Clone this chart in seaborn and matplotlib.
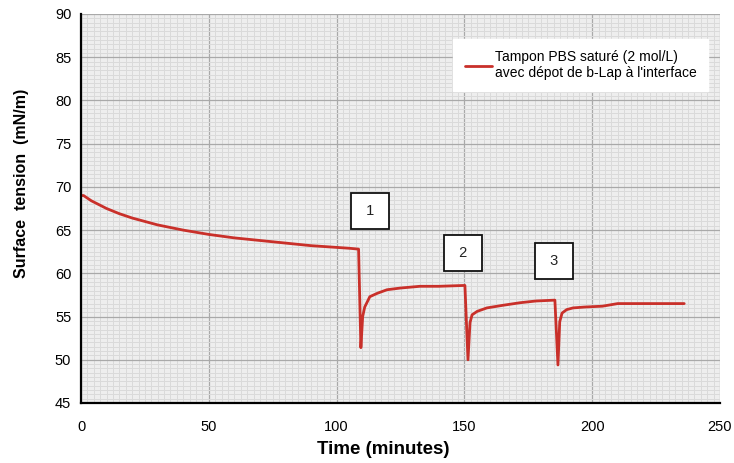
import numpy as np
import pandas as pd
import matplotlib
matplotlib.use("Agg")
import matplotlib.pyplot as plt
from matplotlib.ticker import MultipleLocator
import seaborn as sns

# ---- data ----
time_min = [0, 1, 2, 4, 6, 8, 10, 15, 20, 25, 30, 40, 50, 60, 70, 80, 90, 100, 105, 108.6,
            109.5, 110.2, 111, 113, 116, 119.7, 125, 132.6, 140, 150.2,
            151.4, 152.2, 153, 155, 158.8, 165, 171.8, 178, 185.4,
            186.6, 187.3, 188.2, 190, 192.5, 197, 204, 210, 220, 230, 236]
tension = [69.0, 69.0, 68.8, 68.4, 68.1, 67.8, 67.5, 66.9, 66.4, 66.0, 65.6, 65.0, 64.5, 64.1,
           63.8, 63.5, 63.2, 63.0, 62.9, 62.8,
           51.4, 55.0, 56.1, 57.3, 57.7, 58.1, 58.3, 58.5, 58.5, 58.6,
           50.0, 54.3, 55.2, 55.6, 56.0, 56.3, 56.6, 56.8, 56.9,
           49.4, 54.4, 55.4, 55.8, 56.0, 56.1, 56.2, 56.5, 56.5, 56.5, 56.5]
series_label = "Tampon PBS saturé (2 mol/L)\navec dépot de b-Lap à l'interface"
box_labels = ["1", "2", "3"]
box_x = [113, 149.5, 185]
box_y = [67.2, 62.4, 61.4]

df = pd.DataFrame({"Time": time_min, "Tension": tension, "series": series_label})

sns.set_style("white")
plt.rcParams["font.family"] = ["Liberation Sans", "DejaVu Sans"]
plt.rcParams["text.color"] = "black"
plt.rcParams["axes.labelcolor"] = "black"

fig = plt.figure(figsize=(7.34, 4.63), dpi=100)
ax = fig.add_axes([81 / 734, 1 - 403 / 463, 639 / 734, 389 / 463])
ax.set_facecolor("#eeeeee")

sns.lineplot(data=df, x="Time", y="Tension", hue="series", palette=["#c9302a"],
             linewidth=2.0, ax=ax, sort=False, estimator=None)

ax.set_xlim(0, 250)
ax.set_ylim(45, 90)
ax.xaxis.set_major_locator(MultipleLocator(50))
ax.xaxis.set_minor_locator(MultipleLocator(2.5))
ax.yaxis.set_major_locator(MultipleLocator(5))
ax.yaxis.set_minor_locator(MultipleLocator(0.5))

ax.grid(which="minor", color="#dadada", linewidth=0.7)
ax.grid(which="major", color="#a9a9a9", linewidth=0.9)
ax.set_axisbelow(True)

for s in ["top", "right"]:
    ax.spines[s].set_visible(False)
for s in ["left", "bottom"]:
    ax.spines[s].set_color("black")
    ax.spines[s].set_linewidth(1.6)

ax.tick_params(which="major", direction="inout", length=6, width=1.2, colors="black",
               labelsize=10.5, pad=4)
ax.tick_params(which="minor", direction="inout", length=3, width=1.0, colors="black")
ax.tick_params(axis="x", which="major", pad=9)

ax.set_xlabel("Time (minutes)", fontsize=13.5, fontweight="bold", va="center")
ax.set_ylabel("Surface  tension  (mN/m)", fontsize=11.5, fontweight="bold", va="center")
ax.xaxis.set_label_coords((383 - 81) / 639, (403 - 450) / 389)
ax.yaxis.set_label_coords((22 - 81) / 639, (403 - 183) / 389)

for lab, bx, by in zip(box_labels, box_x, box_y):
    ax.text(bx, by, " " + lab + " ", ha="center", va="center", fontsize=10.5, color="#222222",
            bbox=dict(boxstyle="square,pad=0.75", facecolor="white", edgecolor="#111111",
                      linewidth=1.3))

leg = ax.legend(loc="upper right", bbox_to_anchor=(0.992, 0.954), fontsize=10,
                frameon=True, fancybox=False, handlelength=2.0, handletextpad=0.2,
                borderpad=0.8, title=None)
leg.get_frame().set_facecolor("white")
leg.get_frame().set_edgecolor("white")
leg.get_frame().set_alpha(1)

fig.savefig("out.png", dpi=100)
